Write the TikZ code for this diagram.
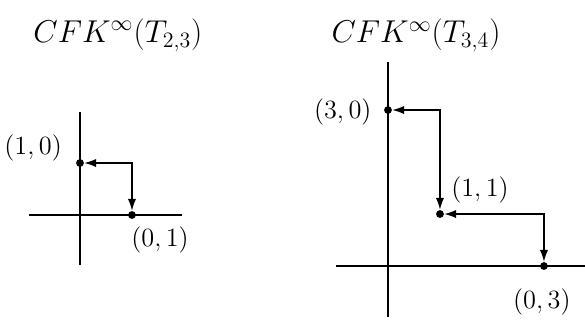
\documentclass[tikz,border=0pt]{standalone}
\usetikzlibrary{arrows.meta}
\begin{document}
\begin{tikzpicture}[
  axis/.style={line width=1pt},
  gen/.style={circle, fill, inner sep=0pt, minimum size=1.5mm},
  diff/.style={{Latex[length=2.3mm, width=1.6mm]}-{Latex[length=2.3mm, width=1.6mm]}, line width=0.75pt},
  lab/.style={font=\fontsize{14}{16}\selectfont},
  ttl/.style={font=\fontsize{16.5}{19}\selectfont}]
\useasboundingbox (-1.538,-2.038) rectangle (9.712,4.135);
% left complex: T_{2,3}
\node[ttl] (t23) at (0.73,3.46) {$CFK^\infty(T_{2,3})$};
\draw[axis] (-0.98,0) -- (1.96,0);
\draw[axis] (0,-0.96) -- (0,1.98);
\node[gen] (a10) at (0,1) {};
\node[gen] (a01) at (1,0) {};
\node[lab] at (-0.90,1.29) {$(1,0)$};
\node[lab] at (1.54,-0.48) {$(0,1)$};
\draw[diff] (a10) -| (a01);
% right complex: T_{3,4}
\begin{scope}[shift={(5.923,-0.981)}]
\node[ttl] (t34) at (0.54,4.44) {$CFK^\infty(T_{3,4})$};
\draw[axis] (-1,0) -- (3.8,0);
\draw[axis] (0,-0.98) -- (0,3.92);
\node[gen] (b30) at (0,3) {};
\node[gen] (b11) at (1,1) {};
\node[gen] (b03) at (3,0) {};
\node[lab] at (-0.87,2.96) {$(3,0)$};
\node[lab] at (1.77,1.46) {$(1,1)$};
\node[lab] at (2.96,-0.69) {$(0,3)$};
\draw[diff] (b30) -| (b11);
\draw[diff] (b11) -| (b03);
\end{scope}
\end{tikzpicture}
\end{document}
